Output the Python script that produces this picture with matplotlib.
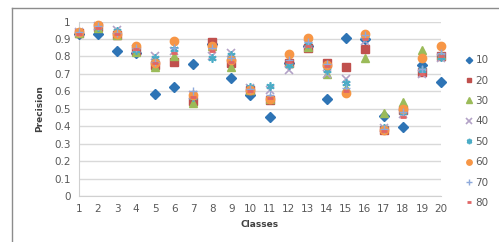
import matplotlib
matplotlib.use('Agg')
import matplotlib.pyplot as plt
from matplotlib.lines import Line2D

classes = list(range(1, 21))
s10 = [0.93, 0.93, 0.83, 0.82, 0.585, 0.625, 0.755, 0.87, 0.675, 0.58, 0.45, 0.76, 0.86, 0.556, 0.905, 0.90, 0.46, 0.395, 0.75, 0.652]
s20 = [0.935, 0.97, 0.925, 0.83, 0.75, 0.77, 0.545, 0.88, 0.76, 0.61, 0.55, 0.765, 0.85, 0.76, 0.74, 0.845, 0.38, 0.49, 0.71, 0.80]
s30 = [0.935, 0.96, 0.92, 0.825, 0.74, 0.80, 0.535, 0.86, 0.74, 0.605, 0.555, 0.765, 0.855, 0.70, 0.62, 0.79, 0.475, 0.54, 0.835, 0.81]
s40 = [0.94, 0.975, 0.95, 0.84, 0.80, 0.83, 0.58, 0.80, 0.82, 0.62, 0.61, 0.72, 0.87, 0.70, 0.67, 0.89, 0.39, 0.47, 0.70, 0.79]
s50 = [0.94, 0.97, 0.945, 0.835, 0.79, 0.84, 0.565, 0.79, 0.81, 0.625, 0.63, 0.75, 0.87, 0.72, 0.645, 0.91, 0.39, 0.48, 0.72, 0.795]
s60 = [0.94, 0.98, 0.93, 0.86, 0.76, 0.89, 0.58, 0.86, 0.78, 0.61, 0.555, 0.815, 0.905, 0.75, 0.59, 0.93, 0.38, 0.50, 0.79, 0.86]
s70 = [0.94, 0.975, 0.935, 0.85, 0.77, 0.85, 0.60, 0.85, 0.79, 0.615, 0.58, 0.78, 0.88, 0.755, 0.62, 0.92, 0.385, 0.48, 0.73, 0.82]
s80 = [0.93, 0.965, 0.93, 0.84, 0.76, 0.82, 0.57, 0.83, 0.77, 0.60, 0.56, 0.77, 0.86, 0.745, 0.60, 0.90, 0.375, 0.455, 0.70, 0.80]
labels = ['10', '20', '30', '40', '50', '60', '70', '80']

series = [s10, s20, s30, s40, s50, s60, s70, s80]
styles = [
    dict(marker='D', color='#2E74B5', ms=5),
    dict(marker='s', color='#C0504D', ms=5.5),
    dict(marker='^', color='#9BBB59', ms=6),
    dict(marker='x', color='#B3A2C7', ms=6, mew=1.2),
    dict(marker=(6, 2, 0), color='#4BACC6', ms=6, mew=1.2),
    dict(marker='o', color='#F79646', ms=6),
    dict(marker='+', color='#8EA9DB', ms=6, mew=1),
    dict(marker='_', color='#E06666', ms=4, mew=2),
]

fig = plt.figure(figsize=(4.99, 2.42), dpi=100)
ax = fig.add_axes([79 / 499, 1 - 196 / 242, (441 - 79) / 499, (196 - 21.5) / 242])

for vals, st in zip(series, styles):
    ax.plot(classes, vals, linestyle='none', clip_on=False, zorder=3, **st)

ax.set_xlim(1, 20)
ax.set_ylim(0, 1)
ax.set_xticks(classes)
ax.set_yticks([i / 10 for i in range(11)])
ax.set_yticklabels(['0'] + ['0.%d' % i for i in range(1, 10)] + ['1'])
ax.grid(axis='y', color='#D9D9D9', linewidth=1)
ax.set_axisbelow(True)
for side in ['top', 'right']:
    ax.spines[side].set_visible(False)
for side in ['left', 'bottom']:
    ax.spines[side].set_color('#D0D0D0')
ax.tick_params(length=0, labelsize=7.5, labelcolor='#595959', pad=6)
ax.set_xlabel('Classes', fontsize=6.5, fontweight='bold', color='#404040', labelpad=4)
ax.set_ylabel('Precision', fontsize=6.5, fontweight='bold', color='#404040', labelpad=7)

handles = [Line2D([], [], linestyle='none', **st) for st in styles]
fig.legend(handles, labels, loc='upper left', bbox_to_anchor=(462 / 499, 1 - 51 / 242),
           frameon=False, fontsize=7.5, labelcolor='#595959', handlelength=0.6,
           handletextpad=0.3, labelspacing=1.0, borderaxespad=0, markerscale=0.65)

# outer chart frame
fig.add_artist(Line2D([12 / 499, 12 / 499], [1 - 8 / 242, 0], color='#8C8C8C', lw=1, transform=fig.transFigure))
fig.add_artist(Line2D([12 / 499, 1], [1 - 8 / 242, 1 - 8 / 242], color='#8C8C8C', lw=1, transform=fig.transFigure))

fig.savefig('out.png', dpi=100)
